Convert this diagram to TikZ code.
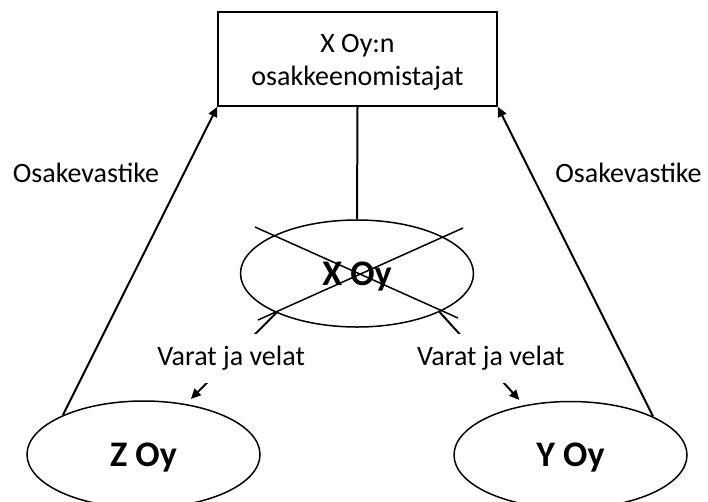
\documentclass[tikz,border=0pt]{standalone}
\usepackage{fontspec}
\setmainfont{Carlito}
\usetikzlibrary{shapes.geometric,arrows.meta}
\begin{document}
\begin{tikzpicture}[x=1pt,y=-1pt,
 company/.style={ellipse,draw,line width=1.5pt,minimum width=233pt,minimum height=107pt,inner sep=0pt,font=\fontsize{36}{40}\selectfont\bfseries,text depth=0pt},
 owner/.style={draw,line width=1.5pt,minimum width=279pt,minimum height=94pt,inner sep=0pt,align=center,font=\fontsize{28}{33}\selectfont},
 arr/.style={line width=2pt,-{Triangle[length=10pt,width=9pt]}},
 lbl/.style={font=\fontsize{28}{33}\selectfont},
 cut/.style={lbl,fill=white,inner xsep=2pt,inner ysep=12pt},
 crossline/.style={line width=1.5pt}]
\useasboundingbox (0,0) rectangle (708,501);
\node[owner] (own) at (357.5,59) {\rule{0pt}{25pt}X Oy:n\\osakkeenomistajat};
\node[company] (x) at (357,273.5) {X Oy};
\node[company] (z) at (143.5,454.5) {Z Oy};
\node[company] (y) at (570.5,455) {Y Oy};
\draw[line width=2pt] (own.south) -- (x.north);
\draw[arr] (z.154) -- (own.south west);
\draw[arr] (y.25) -- (own.south east);
\draw[arr,shorten >=7pt] (x.206) -- node[cut,pos=0.5]{Varat ja velat} (z.50);
\draw[arr,shorten >=7pt] (x.-25) -- node[cut,pos=0.5,xshift=9pt]{Varat ja velat} (y.133);
\node[lbl,anchor=base] (ol) at (86,182) {Osakevastike};
\node[lbl,anchor=base] (or) at (628.5,182) {Osakevastike};
\coordinate (c1) at (255,227);
\coordinate (c2) at (458,318);
\coordinate (c3) at (258,320);
\coordinate (c4) at (463,228);
\draw[crossline] (c1) -- (c2);
\draw[crossline] (c3) -- (c4);
\end{tikzpicture}
\end{document}
